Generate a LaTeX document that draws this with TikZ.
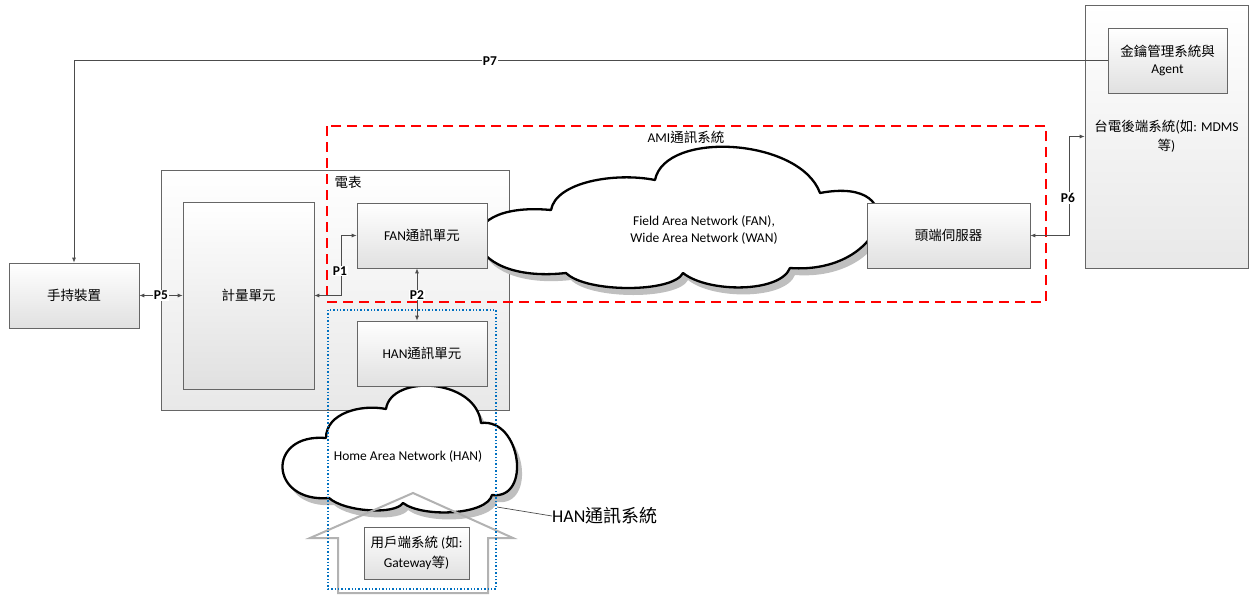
\documentclass[tikz,border=0pt]{standalone}
\usepackage{fontspec}
\setmainfont{Carlito}
\newfontfamily\cjkf{Noto Sans CJK TC}
\newcommand\cj[1]{{\cjkf #1}}
\usetikzlibrary{arrows.meta}
\tikzset{
  every node/.style={font=\fontsize{13.5}{17}\selectfont},
  box/.style={draw=black!60, line width=0.7pt, top color=white, bottom color=black!12, inner sep=2pt, align=center},
  bigbox/.style={draw=black!60, line width=0.7pt, top color=white, bottom color=black!9, inner sep=2pt, align=center},
  conn/.style={draw=black!70, line width=0.8pt},
  arr/.style={-{Latex[length=5pt,width=4pt]}},
  biarr/.style={{Latex[length=5pt,width=4pt]}-{Latex[length=5pt,width=4pt]}},
  plab/.style={font=\fontsize{13.5}{15}\selectfont\bfseries, fill=white, inner sep=1pt},
  cloudline/.style={draw=black, line width=2.3pt, fill=white, line join=round},
  cloudshadow/.style={fill=black!25},
  amibox/.style={draw=red, line width=1.8pt, dash pattern=on 10pt off 6pt},
  hanbox/.style={draw={rgb,255:red,0;green,112;blue,192}, line width=1.4pt, dotted},
  fancloud/.pic={\path[pic actions] (566,-273)
      .. controls (459,-285) and (444,-200) .. (551,-210)
      .. controls (556,-182) and (615,-172) .. (655,-180)
      .. controls (665,-130) and (800,-138) .. (820,-193)
      .. controls (915,-175) and (885,-275) .. (790,-268)
      .. controls (780,-293) and (708,-293) .. (683,-273)
      .. controls (673,-293) and (586,-293) .. cycle;},
  hancloud/.pic={\path[pic actions] (329,-498)
      .. controls (269,-503) and (266,-433) .. (326,-438)
      .. controls (326,-413) and (361,-404) .. (386,-409)
      .. controls (391,-374) and (476,-378) .. (481,-423)
      .. controls (521,-418) and (532,-500) .. (492,-495)
      .. controls (487,-515) and (423,-518) .. (403,-503)
      .. controls (395,-515) and (345,-512) .. cycle;},
}
\begin{document}
\begin{tikzpicture}[x=1pt,y=1pt]
\useasboundingbox (0,0) rectangle (1256,-595);

% back-end system
\node[bigbox, minimum width=163, minimum height=263, font=\fontsize{13.5}{19}\selectfont] (back) at (1166.5,-136.5) {\cj{台電後端系統(如}: MDMS\\\cj{等})};
\node[box, minimum width=119, minimum height=65] (key) at (1167.5,-60.5) {\cj{金鑰管理系統與}\\Agent};

% handheld
\node[box, minimum width=130, minimum height=65] (hand) at (74,-295.5) {\cj{手持裝置}};

% meter
\node[bigbox, minimum width=348, minimum height=240] (meter) at (335,-290) {};
\node[inner sep=0pt] (meterlab) at (348,-182) {\cj{電表}};
\node[box, minimum width=131, minimum height=187] (meas) at (248.5,-295.5) {\cj{計量單元}};

% FAN / WAN cloud
\pic[cloudshadow] at (5,-7) {fancloud};
\pic[cloudline] {fancloud};
\node[box, minimum width=130, minimum height=65] (fan) at (422,-235.5) {FAN\cj{通訊單元}};
\node[box, minimum width=163, minimum height=65] (head) at (948.5,-235.5) {\cj{頭端伺服器}};
\node[align=center, inner sep=0pt] (fantext) at (704,-230) {Field Area Network (FAN),\\Wide Area Network (WAN)};

% HAN cloud
\pic[cloudshadow] at (5,-7) {hancloud};
\pic[cloudline] {hancloud};
\node[box, minimum width=130, minimum height=65] (han) at (422,-353.5) {HAN\cj{通訊單元}};
\node[inner sep=0pt] (hantext) at (408,-456) {Home Area Network (HAN)};

% house
\draw[black!30, line width=2pt, line join=miter] (338,-593) -- (338,-538) -- (310,-538) -- (413,-493) -- (513,-538) -- (488,-538) -- (488,-593) -- cycle;
\node[box, minimum width=105, minimum height=52, font=\fontsize{13.5}{20}\selectfont] (cust) at (416.5,-553) {\cj{用戶端系統} (\cj{如}:\\Gateway\cj{等})};

% system frames
\draw[amibox] (327,-126) rectangle (1046,-302);
\node[inner sep=0pt] (amilab) at (686,-137) {AMI\cj{通訊系統}};
\draw[hanbox] (328,-310) rectangle (496,-589);
\coordinate (hanpt) at (497,-507);
\node[anchor=west, inner sep=0pt, font=\fontsize{18}{20}\selectfont] (hanlab) at (552,-516) {HAN\cj{通訊系統}};
\draw[black!70, line width=0.7pt] (hanpt) -- (hanlab.west);

% connectors
\draw[conn, arr] (key.west) -- (key.west -| hand.north) -- (hand.north);
\node[plab] (p7) at (490,-61) {P7};
\draw[conn, biarr] (hand.east) -- (meas.west);
\node[plab] (p5) at (161,-295.5) {P5};
\draw[conn, biarr] (meas.east) -- ++(27,0) |- (fan.west);
\node[plab] (p1) at (340,-271) {P1};
\draw[conn, biarr] ([xshift=-5pt]fan.south) -- ([xshift=-5pt]han.north);
\node[plab] (p2) at (417,-295) {P2};
\draw[conn, biarr] (head.east) -- ++(39,0) |- (back.west);
\node[plab] (p6) at (1068,-198) {P6};
\end{tikzpicture}
\end{document}
